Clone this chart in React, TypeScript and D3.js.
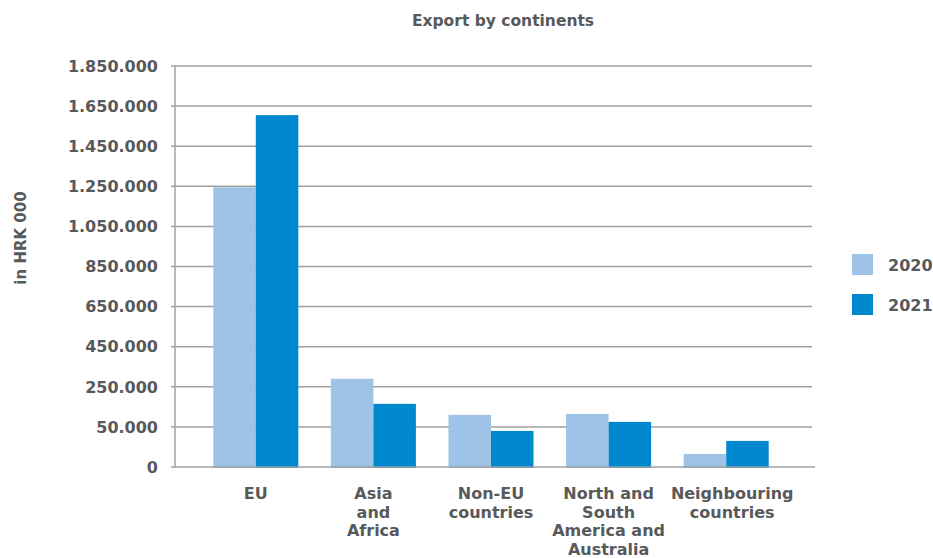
import React from "react";
import * as d3 from "d3";

const categories: string[][] = [
  ["EU"],
  ["Asia", "and", "Africa"],
  ["Non-EU", "countries"],
  ["North and", "South", "America and", "Australia"],
  ["Neighbouring", "countries"],
];
const seriesNames = ["2020", "2021"];
const values2020 = [1395000, 440000, 260000, 265000, 65000];
const values2021 = [1755000, 315000, 180000, 225000, 130000];
const tickValues = [0, 200000, 400000, 600000, 800000, 1000000, 1200000, 1400000, 1600000, 1800000, 2000000];
const tickLabels = ["0", "50.000", "250.000", "450.000", "650.000", "850.000", "1.050.000", "1.250.000", "1.450.000", "1.650.000", "1.850.000"];
const colors = ["#9DC3E6", "#0088CE"];

const W = 933;
const H = 558;
const FONT = "'DejaVu Sans', Verdana, sans-serif";
const TEXT = "#58595b";

export default function App() {
  const y = d3.scaleLinear().domain([0, 2000000]).range([467, 66]);
  const x = d3.scaleBand<number>().domain(d3.range(categories.length)).range([197, 785]).padding(0);
  const barW = 42.5;
  const series = [values2020, values2021];

  return (
    <svg width={W} height={H} style={{ position: "absolute", left: 0, top: 0, background: "#fff" }} fontFamily={FONT}>
      <text x={503} y={26} textAnchor="middle" fontSize={15.5} fontWeight={700} fill={TEXT}>
        Export by continents
      </text>
      {tickValues.map((t, i) =>
        t === 0 ? null : (
          <line key={"g" + i} x1={175} x2={812} y1={y(t)} y2={y(t)} stroke="#a0a0a0" strokeWidth={1.5} />
        )
      )}
      <line x1={175} x2={175} y1={y(2000000)} y2={y(0)} stroke="#a0a0a0" strokeWidth={1.5} />
      {tickValues.map((t, i) => (
        <g key={"t" + i}>
          <line x1={171} x2={175} y1={y(t)} y2={y(t)} stroke="#a0a0a0" strokeWidth={1.5} />
          <text x={158} y={y(t)} dy="0.36em" textAnchor="end" fontSize={16} fontWeight={700} fill={TEXT}>
            {tickLabels[i]}
          </text>
        </g>
      ))}
      {series.map((vals, s) =>
        vals.map((v, i) => {
          const cx = x(i)! + x.bandwidth() / 2;
          return (
            <rect
              key={`b${s}-${i}`}
              x={cx - barW + s * barW}
              y={y(v)}
              width={barW}
              height={y(0) - y(v) + 1}
              fill={colors[s]}
            />
          );
        })
      )}
      <line x1={175} x2={815} y1={y(0)} y2={y(0)} stroke="#a0a0a0" strokeWidth={1.5} />
      {categories.map((lines, i) => {
        const cx = x(i)! + x.bandwidth() / 2 + (i === categories.length - 1 ? 6 : 0);
        return (
          <text key={"c" + i} textAnchor="middle" fontSize={16} fontWeight={700} fill={TEXT}>
            {lines.map((l, j) => (
              <tspan key={j} x={cx} y={499 + j * 18.5}>
                {l}
              </tspan>
            ))}
          </text>
        );
      })}
      <text
        transform={`translate(26,238) rotate(-90)`}
        textAnchor="middle"
        fontSize={15}
        fontWeight={700}
        fill={TEXT}
      >
        in HRK 000
      </text>
      {seriesNames.map((n, i) => (
        <g key={"l" + i} transform={`translate(852,${254 + i * 40})`}>
          <rect width={21} height={21} fill={colors[i]} />
          <text x={36} y={11} dy="0.36em" fontSize={16} fontWeight={700} fill={TEXT}>
            {n}
          </text>
        </g>
      ))}
    </svg>
  );
}
